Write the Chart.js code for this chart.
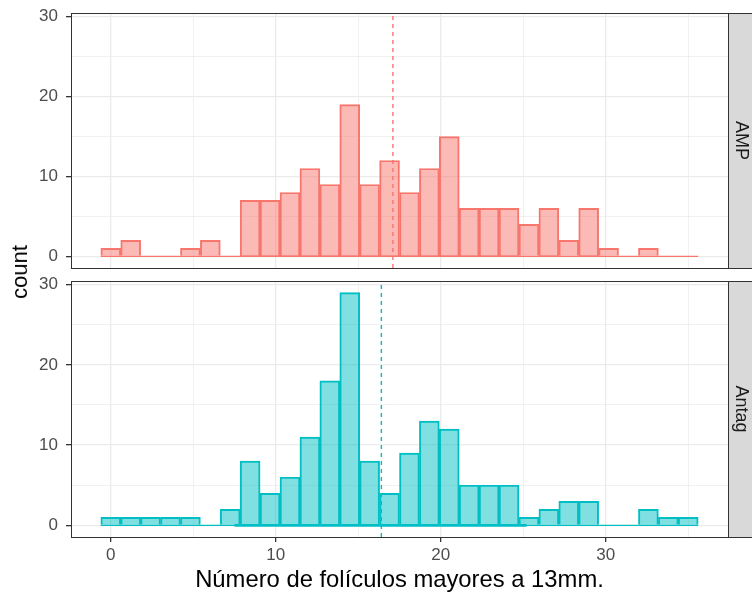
<!DOCTYPE html>
<html>
<head>
<meta charset="utf-8">
<title>Folículos</title>
<script src="https://cdn.jsdelivr.net/npm/chart.js@4"></script>
<style>
  html, body { margin: 0; padding: 0; background: #fff; }
  #wrap { position: relative; width: 752px; height: 599px; overflow: hidden; font-family: 'Liberation Sans', Arial, sans-serif; }
  #ampCanvas { position: absolute; left: 0; top: 0; }
  #antagCanvas { position: absolute; left: 0; top: 270px; }
  #countLabel { position: absolute; left: 20px; top: 272px; transform: translate(-50%, -50%) rotate(-90deg); font-size: 22px; color: #000; white-space: nowrap; }
</style>
</head>
<body>
<div id="wrap">
  <canvas id="ampCanvas" width="752" height="280"></canvas>
  <canvas id="antagCanvas" width="752" height="329"></canvas>
  <div id="countLabel">count</div>
</div>
<script>
// --- data ---
const binCenters = [0, 1.207, 2.414, 3.621, 4.828, 6.034, 7.241, 8.448, 9.655, 10.862,
    12.069, 13.276, 14.483, 15.690, 16.897, 18.103, 19.310, 20.517, 21.724, 22.931,
    24.138, 25.345, 26.552, 27.759, 28.966, 30.172, 31.379, 32.586, 33.793, 35];
const ampCounts = [1, 2, 0, 0, 1, 2, 0, 7, 7, 8, 11, 9, 19, 9, 12, 8, 11, 15, 6, 6,
    6, 4, 6, 2, 6, 1, 0, 1, 0, 0];
const antagCounts = [1, 1, 1, 1, 1, 0, 2, 8, 4, 6, 11, 18, 29, 8, 4, 9, 13, 12, 5, 5,
    5, 1, 2, 3, 3, 0, 0, 2, 1, 1];
const groupMeans = [17.1, 16.4];          // AMP, Antag
const antagBaseSpan = [7.5, 25.2];        // heavier zero line in the Antag panel
const xRange = [-2.41, 37.41];
const yRange = [-1.45, 30.45];
const xTickLabels = [0, 10, 20, 30];
const yTickLabels = [0, 10, 20, 30];

const FONT = "'Liberation Sans', Arial, sans-serif";
const GRID = '#EBEBEB';

function points(xs, ys) {
    return xs.map(function (x, i) { return { x: x, y: ys[i] }; });
}

// strip on the right of each facet plus the panel border
const panelFrame = {
    id: 'panelFrame',
    afterDatasetsDraw: function (chart, args, opts) {
        const a = chart.chartArea;
        const ctx = chart.ctx;
        ctx.save();
        ctx.fillStyle = '#D9D9D9';
        ctx.fillRect(a.right, a.top, chart.width - a.right, a.bottom - a.top);
        ctx.strokeStyle = '#333333';
        ctx.lineWidth = 1;
        ctx.strokeRect(a.left + 0.5, a.top + 0.5, a.right - a.left, a.bottom - a.top);
        ctx.strokeRect(a.right + 0.5, a.top + 0.5, chart.width - a.right + 4, a.bottom - a.top);
        ctx.translate(a.right + (chart.width - a.right) / 2 + 1, (a.top + a.bottom) / 2);
        ctx.rotate(Math.PI / 2);
        ctx.fillStyle = '#1A1A1A';
        ctx.font = '18px ' + FONT;
        ctx.textAlign = 'center';
        ctx.textBaseline = 'middle';
        ctx.fillText(opts.label, 0, 0);
        ctx.restore();
    }
};

function gridStyle(tickLabels) {
    return {
        offset: false,
        color: function (c) { return c.tick && c.tick.value % 5 === 0 ? GRID : 'rgba(0,0,0,0)'; },
        lineWidth: function (c) { return c.tick && c.tick.value % 10 === 0 ? 1.3 : 0.7; },
        tickColor: function (c) { return c.tick && tickLabels.indexOf(c.tick.value) >= 0 ? '#333333' : 'rgba(0,0,0,0)'; },
        tickLength: 5
    };
}

function buildPanel(canvasId, counts, mean, color, fill, label, isBottom) {
    const half = (binCenters[1] - binCenters[0]) / 2;
    const datasets = [
        {
            type: 'bar',
            data: points(binCenters, counts),
            backgroundColor: fill,
            borderColor: color,
            borderWidth: 1.3,
            barPercentage: 1,
            categoryPercentage: 1,
            order: 4
        },
        {
            type: 'line',
            data: [{ x: binCenters[0] - half, y: 0 }, { x: binCenters[binCenters.length - 1] + half, y: 0 }],
            borderColor: color,
            borderWidth: 1.3,
            pointRadius: 0,
            order: 3
        },
        {
            type: 'line',
            data: [{ x: mean, y: yRange[0] }, { x: mean, y: yRange[1] }],
            borderColor: color,
            borderWidth: 1.4,
            borderDash: [4, 4],
            pointRadius: 0,
            order: 1
        }
    ];
    if (isBottom) {
        datasets.push({
            type: 'line',
            data: [{ x: antagBaseSpan[0], y: 0 }, { x: antagBaseSpan[1], y: 0 }],
            borderColor: color,
            borderWidth: 2.6,
            pointRadius: 0,
            order: 2
        });
    }

    const xGrid = gridStyle(isBottom ? xTickLabels : []);
    xGrid.drawTicks = isBottom;

    return new Chart(document.getElementById(canvasId), {
        data: { datasets: datasets },
        options: {
            responsive: false,
            animation: false,
            layout: { padding: { top: isBottom ? 11 : 13, right: 24, left: 0, bottom: 0 } },
            plugins: {
                legend: { display: false },
                tooltip: { enabled: false },
                panelFrame: { label: label }
            },
            scales: {
                x: {
                    type: 'linear',
                    min: xRange[0],
                    max: xRange[1],
                    offset: false,
                    border: { display: false },
                    grid: xGrid,
                    ticks: {
                        display: isBottom,
                        stepSize: 5,
                        includeBounds: false,
                        autoSkip: false,
                        maxRotation: 0,
                        padding: 3,
                        color: '#4D4D4D',
                        font: { family: FONT, size: 17 },
                        callback: function (v) { return xTickLabels.indexOf(v) >= 0 ? String(v) : ''; }
                    },
                    title: {
                        display: isBottom,
                        text: 'Número de folículos mayores a 13mm.',
                        color: '#000000',
                        font: { family: FONT, size: 23.8 },
                        padding: { top: 0, bottom: 4 }
                    },
                    afterFit: function (s) {
                        s.height = isBottom ? 62 : 12;
                        s.paddingLeft = 0;
                        s.paddingRight = 0;
                    }
                },
                y: {
                    min: yRange[0],
                    max: yRange[1],
                    border: { display: false },
                    grid: gridStyle(yTickLabels),
                    ticks: {
                        stepSize: 5,
                        includeBounds: false,
                        autoSkip: false,
                        padding: 8,
                        color: '#4D4D4D',
                        font: { family: FONT, size: 17 },
                        callback: function (v) { return yTickLabels.indexOf(v) >= 0 ? String(v) : ''; }
                    },
                    afterFit: function (s) {
                        s.width = 71;
                        s.paddingTop = 0;
                        s.paddingBottom = 0;
                    }
                }
            }
        },
        plugins: [panelFrame]
    });
}

buildPanel('ampCanvas', ampCounts, groupMeans[0], '#F8766D', 'rgba(248, 118, 109, 0.5)', 'AMP', false);
buildPanel('antagCanvas', antagCounts, groupMeans[1], '#00BFC4', 'rgba(0, 191, 196, 0.5)', 'Antag', true);
</script>
</body>
</html>
